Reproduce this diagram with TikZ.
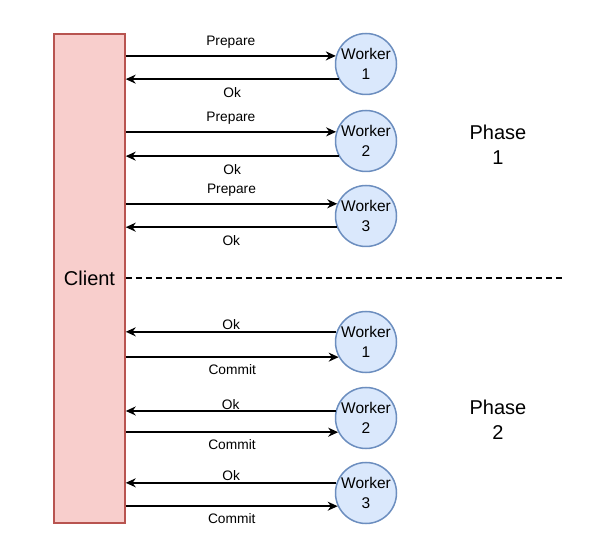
\documentclass[tikz,border=0pt]{standalone}
\usepackage{fontspec}
\setmainfont{Liberation Sans}
\usetikzlibrary{arrows.meta}
\definecolor{clientfill}{HTML}{F8CECC}
\definecolor{clientline}{HTML}{B85450}
\definecolor{workerfill}{HTML}{DAE8FC}
\definecolor{workerline}{HTML}{6C8EBF}
\begin{document}
\begin{tikzpicture}[x=1pt, y=-1pt,
  worker/.style={circle, draw=workerline, fill=workerfill, line width=1.5pt,
    minimum size=61pt, inner sep=0pt, align=center, font=\fontsize{15.5}{19.5}\selectfont},
  msg/.style={line width=1.5pt, -{Stealth[length=10pt, width=9pt]}},
  lbl/.style={font=\fontsize{13.75}{16}\selectfont},
  phase/.style={align=center, font=\fontsize{20}{25}\selectfont}]
  \useasboundingbox (0,0) rectangle (598,548);
  \node[draw=clientline, fill=clientfill, line width=1.5pt, minimum width=71pt,
    minimum height=489pt, font=\fontsize{20}{24}\selectfont] (client) at (89.5,278.5) {Client};
  % phase 1
  \node[worker] (pw1) at (366,64) {Worker\\1};
  \node[worker] (pw2) at (366,141) {Worker\\2};
  \node[worker] (pw3) at (366,216) {Worker\\3};
  \draw[msg] (client.east |- pw1.165) -- node[above, lbl, inner sep=6.5pt]{Prepare} (pw1.165);
  \draw[msg] (pw1.209) -- node[below, lbl, inner sep=8pt]{Ok} (client.east |- pw1.209);
  \draw[msg] (client.east |- pw2.163) -- node[above, lbl, inner sep=6.5pt]{Prepare} (pw2.163);
  \draw[msg] (pw2.209) -- node[below, lbl, inner sep=8pt]{Ok} (client.east |- pw2.209);
  \draw[msg] (client.east |- pw3.157) -- node[above, lbl, inner sep=6.5pt]{Prepare} (pw3.157);
  \draw[msg] (pw3.201) -- node[below, lbl, inner sep=8pt]{Ok} (client.east |- pw3.201);
  \node[phase] (ph1) at (498,144.5) {Phase\\1};
  % split
  \coordinate (split) at (563,278);
  \draw[line width=1.4pt, dash pattern=on 6pt off 4pt] (client.east |- split) -- (split);
  % phase 2
  \node[worker] (cw1) at (366,342) {Worker\\1};
  \node[worker] (cw2) at (366,418) {Worker\\2};
  \node[worker] (cw3) at (366,493) {Worker\\3};
  \draw[msg] (cw1.161) -- node[above, lbl, inner sep=1pt]{Ok} (client.east |- cw1.161);
  \draw[msg] (client.east |- cw1.209) -- node[below, lbl, inner sep=7pt]{Commit} (cw1.209);
  \draw[msg] (cw2.167) -- node[above, lbl, inner sep=1pt]{Ok} (client.east |- cw2.167);
  \draw[msg] (client.east |- cw2.207) -- node[below, lbl, inner sep=7pt]{Commit} (cw2.207);
  \draw[msg] (cw3.161) -- node[above, lbl, inner sep=1pt]{Ok} (client.east |- cw3.161);
  \draw[msg] (client.east |- cw3.205) -- node[below, lbl, inner sep=7pt]{Commit} (cw3.205);
  \node[phase] (ph2) at (498,420) {Phase\\2};
\end{tikzpicture}
\end{document}
